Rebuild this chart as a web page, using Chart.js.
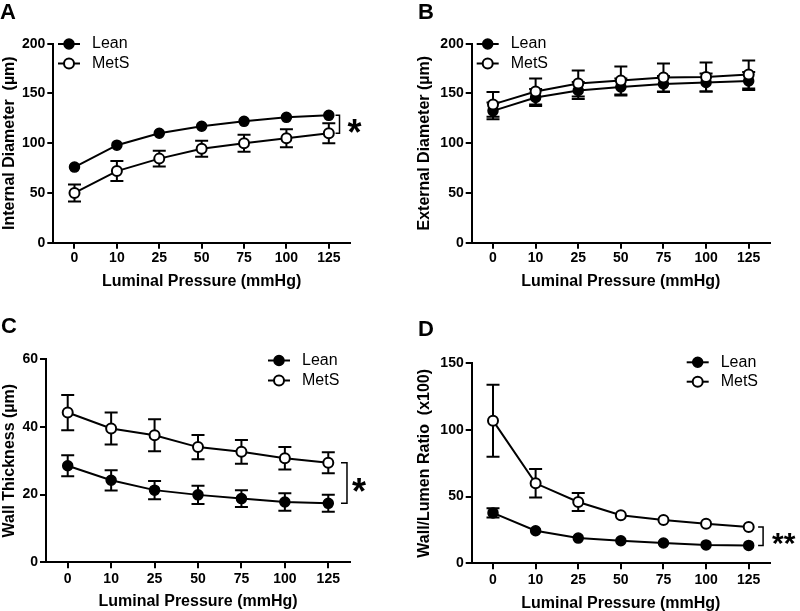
<!DOCTYPE html>
<html>
<head>
<meta charset="utf-8">
<script src="https://cdn.jsdelivr.net/npm/chart.js@4.4.1/dist/chart.umd.min.js"></script>
<style>
  html, body { margin:0; padding:0; background:#fff; }
  #wrap { position:relative; width:800px; height:611px; background:#fff; overflow:hidden; }
  canvas { position:absolute; }
</style>
</head>
<body>
<div id="wrap">
  <canvas id="cA" width="400" height="300" style="left:0;top:0"></canvas>
  <canvas id="cB" width="400" height="300" style="left:400px;top:0"></canvas>
  <canvas id="cC" width="400" height="311" style="left:0;top:300px"></canvas>
  <canvas id="cD" width="400" height="311" style="left:400px;top:300px"></canvas>
</div>
<script>
// ---- data ----
const pressures = ['0', '10', '25', '50', '75', '100', '125'];
const seriesNames = ['Lean', 'MetS'];

// A: Internal diameter (µm)
const idLean    = [76, 98, 110, 117, 122, 126, 128];
const idLeanErr = [2, 2, 2, 2, 2, 2, 2];
const idMetS    = [50, 72, 84.5, 94.5, 100, 105, 110];
const idMetSErr = [8.5, 10, 8, 8, 8.5, 9, 10];

// B: External diameter (µm)
const edLean    = [132.5, 146, 153, 156.5, 159.5, 161, 162.5];
const edLeanErr = [8.5, 8.5, 8.5, 8.5, 8, 9, 9];
const edMetS    = [139, 152, 160, 163, 166, 166.5, 169];
const edMetSErr = [12.5, 13, 13, 14, 14, 14.5, 14];

// C: Wall thickness (µm)
const wtLean    = [28.5, 24.2, 21.3, 19.9, 18.8, 17.8, 17.4];
const wtLeanErr = [3.1, 3, 2.7, 2.7, 2.5, 2.6, 2.5];
const wtMetS    = [44.2, 39.5, 37.5, 34, 32.6, 30.7, 29.4];
const wtMetSErr = [5.2, 4.7, 4.7, 3.6, 3.5, 3.3, 3.1];

// D: Wall/Lumen ratio (x100)
const wlLean    = [37.8, 24.4, 18.9, 16.9, 15.2, 13.8, 13.4];
const wlLeanErr = [3.5, 1.5, 1.5, 1, 1, 1, 1];
const wlMetS    = [107, 60, 46, 36, 32.4, 29.6, 27.2];
const wlMetSErr = [27, 10.7, 6.8, 2.5, 2, 2, 2];

// y-axis ticks
const yMaxA = 200, yStepA = 50;
const yMaxB = 200, yStepB = 50;
const yMaxC = 60,  yStepC = 20;
const yMaxD = 150, yStepD = 50;

const FONT = "'Liberation Sans', Arial, Helvetica, sans-serif";
Chart.defaults.font.family = FONT;
Chart.defaults.color = '#000';

// ---- plugins ----
const errorBars = {
  id: 'errorBars',
  beforeDatasetsDraw(chart) {
    const ctx = chart.ctx, ys = chart.scales.y;
    chart.data.datasets.forEach((ds, di) => {
      const meta = chart.getDatasetMeta(di);
      meta.data.forEach((pt, i) => {
        const v = ds.data[i], e = ds.errors[i];
        const x = pt.x, top = ys.getPixelForValue(v + e), bot = ys.getPixelForValue(v - e);
        // like the source software, bars shorter than the symbol are hidden
        if (Math.abs(bot - pt.y) < 4) return;
        ctx.save();
        ctx.strokeStyle = '#000'; ctx.lineWidth = 2;
        ctx.beginPath();
        ctx.moveTo(x, top); ctx.lineTo(x, bot);
        ctx.moveTo(x - 6.5, top); ctx.lineTo(x + 6.5, top);
        ctx.moveTo(x - 6.5, bot); ctx.lineTo(x + 6.5, bot);
        ctx.stroke();
        ctx.restore();
      });
    });
  }
};

const customLegend = {
  id: 'customLegend',
  afterDraw(chart, args, o) {
    const ctx = chart.ctx;
    chart.data.datasets.forEach((ds, i) => {
      const y = o.y + i * o.dy;
      ctx.save();
      ctx.strokeStyle = '#000'; ctx.lineWidth = 2;
      ctx.beginPath(); ctx.moveTo(o.x, y); ctx.lineTo(o.x + 22, y); ctx.stroke();
      ctx.beginPath(); ctx.arc(o.x + 11, y, 5, 0, Math.PI * 2);
      ctx.fillStyle = ds.pointBackgroundColor; ctx.fill();
      ctx.lineWidth = ds.pointBorderWidth; ctx.stroke();
      ctx.fillStyle = '#000';
      ctx.font = '16px ' + FONT;
      ctx.textBaseline = 'middle'; ctx.textAlign = 'left';
      ctx.fillText(ds.label, o.x + 34, y);
      ctx.restore();
    });
  }
};

const bracket = {
  id: 'bracket',
  afterDraw(chart, args, o) {
    if (!o.text) return;
    const ctx = chart.ctx;
    const m0 = chart.getDatasetMeta(0), m1 = chart.getDatasetMeta(1);
    const n = m0.data.length - 1;
    const x = m0.data[n].x + o.dx;
    const y1 = m0.data[n].y, y2 = m1.data[n].y;
    ctx.save();
    ctx.strokeStyle = '#000'; ctx.lineWidth = 1.5;
    ctx.beginPath();
    ctx.moveTo(x - o.stub, y1); ctx.lineTo(x, y1); ctx.lineTo(x, y2); ctx.lineTo(x - o.stub, y2);
    ctx.stroke();
    ctx.fillStyle = '#000';
    ctx.font = 'bold ' + o.size + 'px ' + FONT;
    ctx.textAlign = 'left'; ctx.textBaseline = 'alphabetic';
    const cy = (y1 + y2) / 2;
    ctx.fillText(o.text, x + o.gap, cy + 0.57 * o.size);
    ctx.restore();
  }
};

const panelLetter = {
  id: 'panelLetter',
  afterDraw(chart, args, o) {
    const ctx = chart.ctx;
    ctx.save();
    ctx.fillStyle = '#000';
    ctx.font = 'bold 22px ' + FONT;
    ctx.textAlign = 'left'; ctx.textBaseline = 'alphabetic';
    ctx.fillText(o.text, o.x, o.y);
    ctx.restore();
  }
};

function makePanel(id, g) {
  const canvas = document.getElementById(id);
  const H = canvas.height;
  return new Chart(canvas, {
    type: 'line',
    data: {
      labels: pressures,
      datasets: [
        { label: seriesNames[0], data: g.lean, errors: g.leanErr,
          borderColor: '#000', backgroundColor: '#000',
          pointBackgroundColor: '#000', pointBorderColor: '#000',
          pointRadius: 5, pointBorderWidth: 1.5, borderWidth: 2,
          tension: 0, clip: false, order: 1 },
        { label: seriesNames[1], data: g.mets, errors: g.metsErr,
          borderColor: '#000', backgroundColor: '#fff',
          pointBackgroundColor: '#fff', pointBorderColor: '#000',
          pointRadius: 5, pointBorderWidth: 2, borderWidth: 2,
          tension: 0, clip: false, order: 0 }
      ]
    },
    options: {
      responsive: false, animation: false, devicePixelRatio: 1, events: [],
      layout: { padding: { left: 0, top: g.top, right: canvas.width - g.right, bottom: 0 } },
      plugins: {
        legend: { display: false }, tooltip: { enabled: false },
        customLegend: g.legend, bracket: g.bracket, panelLetter: g.letter
      },
      scales: {
        x: {
          type: 'category', offset: true,
          grid: { display: true, drawOnChartArea: false, drawTicks: true, tickLength: 6, color: '#000', lineWidth: 2, offset: false },
          border: { display: true, color: '#000', width: 2 },
          ticks: { color: '#000', font: { size: 14, weight: 'bold' }, padding: g.xTickPad, maxRotation: 0, autoSkip: false },
          title: { display: true, text: 'Luminal Pressure (mmHg)', color: '#000',
                   font: { size: 16, weight: 'bold' }, padding: { top: 0, bottom: g.xTitlePad } },
          afterFit: s => { s.height = H - g.bottom; }
        },
        y: {
          min: 0, max: g.yMax,
          grid: { display: true, drawOnChartArea: false, drawTicks: true, tickLength: 6, color: '#000', lineWidth: 2 },
          border: { display: true, color: '#000', width: 2 },
          ticks: { stepSize: g.yStep, color: '#000', font: { size: 14, weight: 'bold' }, padding: 2 },
          title: { display: true, text: g.yTitle, color: '#000',
                   font: { size: 16, weight: 'bold' }, padding: { top: g.yTitlePad, bottom: 0 } },
          afterFit: s => { s.width = g.left; }
        }
      }
    },
    plugins: [errorBars, customLegend, bracket, panelLetter]
  });
}

makePanel('cA', {
  lean: idLean, leanErr: idLeanErr, mets: idMetS, metsErr: idMetSErr,
  yMax: yMaxA, yStep: yStepA, yTitle: 'Internal Diameter  (µm)',
  left: 53.3, right: 350, top: 43.7, bottom: 242.7,
  xTickPad: 1, xTitlePad: 9, yTitlePad: 0,
  legend: { x: 58, y: 44, dy: 19.5 },
  bracket: { dx: 10.7, stub: 4, gap: 8, text: '*', size: 36 },
  letter: { text: 'A', x: 0, y: 19 }
});
makePanel('cB', {
  lean: edLean, leanErr: edLeanErr, mets: edMetS, metsErr: edMetSErr,
  yMax: yMaxB, yStep: yStepB, yTitle: 'External Diameter (µm)',
  left: 71.7, right: 370, top: 43.7, bottom: 242.7,
  xTickPad: 1, xTitlePad: 9, yTitlePad: 15.4,
  legend: { x: 76.7, y: 44, dy: 19.5 },
  bracket: { dx: 0, stub: 0, gap: 0, text: '', size: 10 },
  letter: { text: 'B', x: 18, y: 19 }
});
makePanel('cC', {
  lean: wtLean, leanErr: wtLeanErr, mets: wtMetS, metsErr: wtMetSErr,
  yMax: yMaxC, yStep: yStepC, yTitle: 'Wall Thickness (µm)',
  left: 46, right: 350, top: 59, bottom: 262.3,
  xTickPad: 2, xTitlePad: 0, yTitlePad: 0,
  legend: { x: 268, y: 60.5, dy: 20 },
  bracket: { dx: 18.7, stub: 6, gap: 5, text: '*', size: 36 },
  letter: { text: 'C', x: 1, y: 33 }
});
makePanel('cD', {
  lean: wlLean, leanErr: wlLeanErr, mets: wlMetS, metsErr: wlMetSErr,
  yMax: yMaxD, yStep: yStepD, yTitle: 'Wall/Lumen Ratio  (x100)',
  left: 71.7, right: 370, top: 63.3, bottom: 263.3,
  xTickPad: 2, xTitlePad: -2, yTitlePad: 15.4,
  legend: { x: 286.7, y: 62.3, dy: 19.4 },
  bracket: { dx: 14.4, stub: 5, gap: 9, text: '**', size: 30 },
  letter: { text: 'D', x: 18, y: 36 }
});
</script>
</body>
</html>
